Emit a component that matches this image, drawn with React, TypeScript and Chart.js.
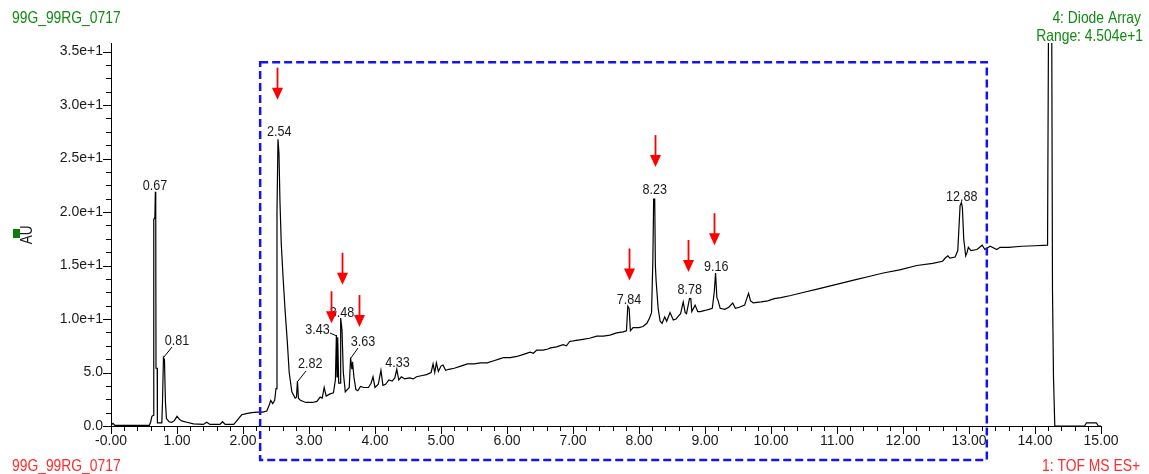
import React, { useEffect, useRef } from 'react';
import { Chart, registerables } from 'chart.js';

Chart.register(...registerables);

// ---- data ----
const retentionTimes = [
  0.0, 0.03, 0.06, 0.58, 0.6, 0.62, 0.64, 0.648, 0.665, 0.672, 0.678, 0.682, 0.7, 0.703, 0.77, 0.78, 0.795, 0.81, 0.825, 0.84,
  0.88, 0.92, 0.96, 1.0, 1.04, 1.08, 1.15, 1.25, 1.4, 1.45, 1.5, 1.65, 1.69, 1.73, 1.86, 1.92, 1.98, 2.05, 2.13, 2.22,
  2.3, 2.36, 2.4, 2.42, 2.45, 2.48, 2.5, 2.515, 2.53, 2.545, 2.56, 2.58, 2.61, 2.64, 2.67, 2.7, 2.74, 2.79, 2.81, 2.825,
  2.84, 2.87, 2.95, 3.05, 3.12, 3.17, 3.2, 3.23, 3.26, 3.32, 3.37, 3.4, 3.415, 3.425, 3.435, 3.45, 3.47, 3.48, 3.5, 3.52,
  3.55, 3.58, 3.61, 3.63, 3.65, 3.66, 3.68, 3.71, 3.74, 3.78, 3.83, 3.9, 3.94, 3.97, 4.0, 4.05, 4.09, 4.12, 4.16, 4.21,
  4.26, 4.3, 4.33, 4.36, 4.4, 4.45, 4.52, 4.58, 4.63, 4.7, 4.78, 4.85, 4.88, 4.905, 4.93, 4.96, 5.0, 5.03, 5.07, 5.12,
  5.2, 5.3, 5.4, 5.5, 5.6, 5.7, 5.8, 5.9, 5.95, 6.05, 6.15, 6.25, 6.35, 6.4, 6.45, 6.55, 6.62, 6.66, 6.75, 6.85,
  6.9, 6.95, 7.05, 7.15, 7.25, 7.36, 7.46, 7.56, 7.66, 7.76, 7.81, 7.83, 7.85, 7.87, 7.91, 8.0, 8.06, 8.12, 8.16, 8.19,
  8.21, 8.222, 8.238, 8.248, 8.26, 8.29, 8.32, 8.35, 8.39, 8.42, 8.47, 8.52, 8.56, 8.6, 8.63, 8.67, 8.7, 8.72, 8.765, 8.785,
  8.8, 8.85, 8.89, 8.93, 9.0, 9.06, 9.11, 9.14, 9.16, 9.18, 9.2, 9.23, 9.3, 9.36, 9.42, 9.46, 9.52, 9.6, 9.66, 9.69,
  9.73, 9.85, 9.95, 10.05, 10.15, 10.3, 10.5, 10.7, 10.9, 11.1, 11.3, 11.5, 11.7, 11.95, 12.21, 12.45, 12.6, 12.64, 12.68, 12.71,
  12.79, 12.83, 12.865, 12.885, 12.9, 12.92, 12.95, 12.97, 12.99, 13.03, 13.12, 13.2, 13.24, 13.32, 13.42, 13.47, 13.6, 13.8, 14.0, 14.19,
  14.21, 14.25, 14.265, 14.28, 14.3, 14.75, 14.78, 14.93, 14.96, 15.0,
];
const absorbance = [
  0.05, 0.25, 0.05, 0.05, 0.35, 0.9, 1.0, 19.3, 19.5, 21.9, 19.5, 5.4, 5.4, 0.3, 0.3, 2.2, 6.4, 6.2, 2.2, 0.7,
  0.4, 0.35, 0.5, 0.9, 0.6, 0.45, 0.35, 0.2, 0.15, 0.35, 0.15, 0.15, 0.4, 0.15, 0.15, 0.6, 1.05, 1.15, 1.25, 1.3,
  1.3, 1.4, 2.0, 2.4, 2.1, 2.4, 3.5, 20, 26.8, 25.5, 21, 17, 13.6, 10.6, 8.0, 5.0, 3.2, 2.6, 2.7, 4.2,
  2.6, 2.4, 2.2, 2.2, 2.3, 2.7, 2.6, 3.6, 2.8, 3.0, 3.1, 4.3, 8.5, 4.6, 8.3, 4.0, 4.0, 10.1, 9.0, 5.0,
  3.2, 3.4, 3.6, 6.4, 5.3, 6.0, 4.6, 3.4, 3.3, 3.7, 3.6, 3.6, 4.0, 4.6, 3.6, 3.9, 5.2, 3.8, 3.9, 4.3,
  4.2, 4.5, 5.3, 4.3, 4.6, 4.4, 4.5, 4.4, 4.6, 4.7, 4.8, 5.0, 5.8, 5.0, 5.9, 5.1, 5.6, 5.7, 5.2, 5.3,
  5.4, 5.6, 5.8, 5.8, 5.9, 5.9, 6.1, 6.3, 6.4, 6.4, 6.5, 6.7, 6.9, 6.8, 7.1, 7.1, 7.2, 7.3, 7.4, 7.6,
  7.5, 7.9, 8.0, 8.1, 8.2, 8.4, 8.4, 8.5, 8.7, 8.8, 8.9, 11.2, 11.0, 8.9, 9.2, 9.2, 9.3, 9.6, 10.1, 10.6,
  15.5, 21.2, 21.2, 15, 13.5, 11, 9.8, 9.6, 10.2, 9.8, 10.6, 9.9, 10.0, 10.3, 10.5, 11.6, 10.6, 10.5, 11.9, 11.9,
  10.7, 11.3, 10.7, 10.7, 10.8, 10.9, 11.0, 12.5, 14.3, 12.0, 11.7, 11.0, 10.9, 11.1, 11.5, 11.0, 11.1, 11.3, 12.4, 11.7,
  11.5, 11.6, 11.7, 11.9, 12.0, 12.2, 12.5, 12.8, 13.1, 13.4, 13.7, 14.0, 14.3, 14.6, 15.0, 15.2, 15.4, 15.7, 15.9, 15.7,
  15.8, 16.4, 20.6, 20.9, 20.4, 17.5, 15.9, 16.2, 16.7, 16.4, 16.5, 16.9, 16.5, 16.8, 16.5, 16.7, 16.7, 16.8, 16.85, 16.9,
  45, 45, 12.7, 4.6, 0, 0, 0.3, 0.3, 0, 0,
];

const peakLabels = ['0.67', '0.81', '2.54', '2.82', '3.43', '3.48', '3.63', '4.33', '7.84', '8.23', '8.78', '9.16', '12.88'];
const peakLabelTimes = [0.667, 1.0, 2.55, 3.02, 3.13, 3.5, 3.82, 4.34, 7.85, 8.24, 8.77, 9.17, 12.89];
const peakLabelValues = [22.1, 7.6, 27.1, 5.4, 8.6, 10.2, 7.5, 5.5, 11.4, 21.7, 12.3, 14.5, 21.0];

// leader lines: label side -> peak side
const leaderFromTimes = [0.924, 2.955, 3.318, 3.742];
const leaderFromValues = [7.38, 5.14, 8.69, 7.29];
const leaderToTimes = [0.803, 2.833, 3.424, 3.636];
const leaderToValues = [6.45, 4.2, 8.41, 6.36];

const arrowTimes = [2.51, 3.33, 3.5, 3.76, 7.85, 8.24, 8.74, 9.14];
const arrowTipValues = [30.5, 9.6, 13.2, 9.25, 13.6, 24.2, 14.4, 16.9];

const boxTimes = [2.26, 13.27];
const boxValues = [-3.18, 34.0];

const xMin = 0;
const xMax = 15;
const yMin = 0;
const yMax = 35.8;
const xMajorStep = 1;
const xMinorStep = 0.2;
const yMajorStep = 5;
const yMinorStep = 1.25;

const topLeftTitle = '99G_99RG_0717';
const topRightLines = ['4: Diode Array', 'Range: 4.504e+1'];
const bottomLeftTitle = '99G_99RG_0717';
const bottomRightTitle = '1: TOF MS ES+';
const yAxisTitle = 'AU';

const FONT = "'Liberation Sans', Arial, sans-serif";
const GREEN = '#118a11';
const RED = '#ff2a2a';
const BLUE = '#1414f0';
const NARROW = 0.84;

function yTickLabel(v: number): string {
  if (v === 0) return '0.0';
  if (v < 10) return v.toFixed(1);
  return (v / 10).toFixed(1) + 'e+1';
}
function xTickLabel(v: number): string {
  if (v === 0) return '-0.00';
  return v.toFixed(2);
}

function narrowText(
  ctx: CanvasRenderingContext2D,
  text: string,
  x: number,
  y: number,
  align: CanvasTextAlign,
  size: number,
  color: string,
) {
  ctx.save();
  ctx.translate(x, y);
  ctx.scale(NARROW, 1);
  ctx.font = `${size}px ${FONT}`;
  ctx.fillStyle = color;
  ctx.textAlign = align;
  ctx.textBaseline = 'alphabetic';
  ctx.fillText(text, 0, 0);
  ctx.restore();
}

const decorPlugin = {
  id: 'decor',
  afterDraw(chart: any) {
    const ctx: CanvasRenderingContext2D = chart.ctx;
    const xs = chart.scales.x;
    const ys = chart.scales.y;
    const area = chart.chartArea;
    ctx.save();

    // tick marks
    ctx.strokeStyle = '#000';
    ctx.lineWidth = 1;
    ctx.beginPath();
    const nx = Math.round((xMax - xMin) / xMinorStep);
    for (let i = 0; i <= nx; i++) {
      const v = xMin + i * xMinorStep;
      const major = Math.abs(v / xMajorStep - Math.round(v / xMajorStep)) < 1e-6;
      const px = Math.round(xs.getPixelForValue(v)) + 0.5;
      ctx.moveTo(px, area.bottom);
      ctx.lineTo(px, area.bottom + (major ? 8 : 5));
    }
    const ny = Math.floor((yMax - yMin) / yMinorStep + 1e-6);
    for (let i = 0; i <= ny; i++) {
      const v = yMin + i * yMinorStep;
      const major = Math.abs(v / yMajorStep - Math.round(v / yMajorStep)) < 1e-6;
      const py = Math.round(ys.getPixelForValue(v)) + 0.5;
      ctx.moveTo(area.left, py);
      ctx.lineTo(area.left - (major ? 8 : 5), py);
    }
    ctx.stroke();

    // peak labels
    for (let i = 0; i < peakLabels.length; i++) {
      narrowText(
        ctx,
        peakLabels[i],
        xs.getPixelForValue(peakLabelTimes[i]),
        ys.getPixelForValue(peakLabelValues[i]),
        'center',
        15,
        '#1a1a1a',
      );
    }
    // leaders
    ctx.strokeStyle = '#000';
    ctx.lineWidth = 1;
    ctx.beginPath();
    for (let i = 0; i < leaderFromTimes.length; i++) {
      ctx.moveTo(xs.getPixelForValue(leaderFromTimes[i]), ys.getPixelForValue(leaderFromValues[i]));
      ctx.lineTo(xs.getPixelForValue(leaderToTimes[i]), ys.getPixelForValue(leaderToValues[i]));
    }
    ctx.stroke();

    // arrows
    ctx.strokeStyle = '#ff0000';
    ctx.fillStyle = '#ff0000';
    for (let i = 0; i < arrowTimes.length; i++) {
      const ax = Math.round(xs.getPixelForValue(arrowTimes[i])) + 0.5;
      const tip = ys.getPixelForValue(arrowTipValues[i]);
      ctx.lineWidth = 1.8;
      ctx.beginPath();
      ctx.moveTo(ax, tip - 32);
      ctx.lineTo(ax, tip - 10);
      ctx.stroke();
      ctx.beginPath();
      ctx.moveTo(ax - 5.5, tip - 12);
      ctx.lineTo(ax + 5.5, tip - 12);
      ctx.lineTo(ax, tip);
      ctx.closePath();
      ctx.fill();
    }

    // dashed box
    const bx0 = xs.getPixelForValue(boxTimes[0]);
    const bx1 = xs.getPixelForValue(boxTimes[1]);
    const by0 = ys.getPixelForValue(boxValues[1]);
    const by1 = ys.getPixelForValue(boxValues[0]);
    ctx.strokeStyle = BLUE;
    ctx.lineWidth = 2.5;
    ctx.setLineDash([8, 4]);
    ctx.strokeRect(bx0, by0, bx1 - bx0, by1 - by0);
    ctx.setLineDash([]);

    // texts
    narrowText(ctx, topLeftTitle, 12, 23, 'left', 16.5, GREEN);
    narrowText(ctx, topRightLines[0], 1141, 23, 'right', 16.5, GREEN);
    narrowText(ctx, topRightLines[1], 1143, 41, 'right', 16.5, GREEN);
    narrowText(ctx, bottomLeftTitle, 12, 471, 'left', 16.5, RED);
    narrowText(ctx, bottomRightTitle, 1140, 471, 'right', 16.5, RED);

    // y axis title with marker
    ctx.fillStyle = '#0a7d0a';
    ctx.fillRect(13, 229, 7, 9);
    ctx.save();
    ctx.translate(32, 235);
    ctx.rotate(-Math.PI / 2);
    ctx.scale(NARROW, 1);
    ctx.fillStyle = '#1a1a1a';
    ctx.textAlign = 'center';
    ctx.textBaseline = 'alphabetic';
    ctx.font = `16px ${FONT}`;
    ctx.fillText(yAxisTitle, 0, 0);
    ctx.restore();

    ctx.restore();
  },
};

export default function App() {
  const ref = useRef<HTMLCanvasElement>(null);
  useEffect(() => {
    document.body.style.margin = '0';
    const points = retentionTimes.map((t, i) => ({ x: t, y: absorbance[i] }));
    const chart = new Chart(ref.current as HTMLCanvasElement, {
      type: 'line',
      data: {
        datasets: [
          {
            data: points,
            borderColor: '#000',
            borderWidth: 1.2,
            pointRadius: 0,
            tension: 0,
            fill: false,
          },
        ],
      },
      options: {
        animation: false,
        responsive: false,
        devicePixelRatio: 1,
        parsing: false as any,
        layout: { padding: { left: 0, top: 43, right: 48, bottom: 0 } },
        plugins: { legend: { display: false }, tooltip: { enabled: false } },
        scales: {
          x: {
            type: 'linear',
            min: xMin,
            max: xMax,
            grid: { display: false, drawTicks: false },
            border: { display: true, color: '#000', width: 1 },
            ticks: {
              stepSize: xMajorStep,
              includeBounds: false,
              maxRotation: 0,
              autoSkip: false,
              padding: 7,
              color: '#1a1a1a',
              font: { family: FONT, size: 14 },
              callback: (v: any) => xTickLabel(Number(v)),
            },
            afterFit: (s: any) => {
              s.height = 48;
            },
          },
          y: {
            type: 'linear',
            min: yMin,
            max: yMax,
            grid: { display: false, drawTicks: false },
            border: { display: true, color: '#000', width: 1 },
            ticks: {
              stepSize: yMajorStep,
              includeBounds: false,
              autoSkip: false,
              padding: 8,
              color: '#1a1a1a',
              font: { family: FONT, size: 14 },
              callback: (v: any) => yTickLabel(Number(v)),
            },
            afterFit: (s: any) => {
              s.width = 111;
            },
          },
        },
      },
      plugins: [decorPlugin],
    });
    return () => chart.destroy();
  }, []);
  return (
    <div style={{ position: 'absolute', left: 0, top: 0, width: 1149, height: 474, background: '#fff' }}>
      <canvas ref={ref} width={1149} height={474} style={{ display: 'block' }} />
    </div>
  );
}
